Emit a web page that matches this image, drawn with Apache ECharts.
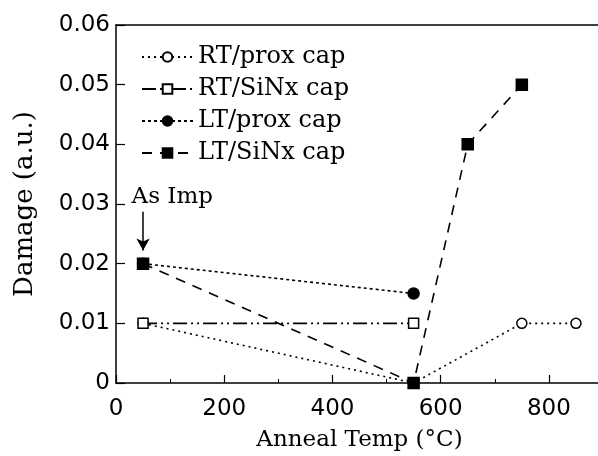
<!DOCTYPE html>
<html><head><meta charset="utf-8">
<script src="https://cdn.jsdelivr.net/npm/echarts@6/dist/echarts.min.js"></script>
<style>html,body{margin:0;padding:0;background:#fff;overflow:hidden}#c{width:598px;height:456px}</style>
</head><body><div id="c"></div>
<script>
const seriesNames = ['RT/prox cap', 'RT/SiNx cap', 'LT/prox cap', 'LT/SiNx cap'];
const rtProx = [[50, 0.01], [550, 0], [750, 0.01], [850, 0.01]];
const rtSiNx = [[50, 0.01], [550, 0.01]];
const ltProx = [[50, 0.02], [550, 0.015]];
const ltSiNx = [[50, 0.02], [550, 0], [650, 0.04], [750, 0.05]];
const xTicks = [0, 200, 400, 600, 800];
const yTicks = [0, 0.01, 0.02, 0.03, 0.04, 0.05, 0.06];
const annoText = 'As Imp';
const annoTextPos = [104, 0.0312];
const annoArrow = [[50, 0.0287], [50, 0.0222]];

const serif = 'DejaVu Serif';
const sans = 'DejaVu Sans';
const chart = echarts.init(document.getElementById('c'));
function mk(name, data, symbol, filled, dash, z) {
  return {
    name, type: 'line', data, symbol, symbolSize: filled ? 11 : 10, z,
    itemStyle: { color: filled ? '#000' : '#fff', borderColor: '#000', borderWidth: 1.5 },
    lineStyle: { color: '#000', width: 1.6, type: dash },
    emphasis: { disabled: true }, animation: false
  };
}
const s1 = mk(seriesNames[0], rtProx, 'circle', false, [2, 4], 2);
const s2 = mk(seriesNames[1], rtSiNx, 'rect', false, [14, 4, 2, 4, 2, 4], 3);
const s3 = mk(seriesNames[2], ltProx, 'circle', true, [3, 3], 4);
const s4 = mk(seriesNames[3], ltSiNx, 'rect', true, [10, 8], 5);
s4.markLine = {
  silent: true, symbol: ['none', 'arrow'], symbolSize: [10, 12], animation: false,
  lineStyle: { color: '#000', type: 'solid', width: 1.5 }, label: { show: false },
  data: [[{ coord: annoArrow[0] }, { coord: annoArrow[1] }]]
};
s4.markPoint = {
  silent: true, symbol: 'circle', symbolSize: 0, animation: false,
  label: { show: true, formatter: annoText, color: '#000', fontFamily: serif, fontSize: 23, position: 'inside' },
  data: [{ coord: annoTextPos }]
};
chart.setOption({
  animation: false,
  grid: { left: 116, width: 487, top: 25, height: 358, show: false,
    containLabel: false, outerBoundsMode: 'none' },
  legend: {
    left: 136, top: 40, orient: 'vertical', itemWidth: 51, itemHeight: 12, itemGap: 8,
    data: seriesNames,
    textStyle: { fontFamily: serif, fontSize: 24, lineHeight: 24, color: '#000' }
  },
  graphic: [{ type: 'rect', right: 0, top: 27, z: 100, silent: true,
    shape: { width: 6, height: 354 }, style: { fill: '#fff' } }],
  xAxis: [{
    type: 'value', min: 0, max: 900, interval: 200,
    name: 'Anneal Temp (°C)', nameLocation: 'middle', nameGap: 46,
    nameTextStyle: { fontFamily: serif, fontSize: 23, color: '#000' },
    axisLine: { onZero: false, lineStyle: { color: '#000', width: 1.5 } },
    axisTick: { inside: true, length: 8, lineStyle: { color: '#000', width: 1.2 } },
    minorTick: { show: true, splitNumber: 2, length: 4, lineStyle: { color: '#000' } },
    splitLine: { show: false },
    axisLabel: { fontFamily: sans, fontSize: 23, color: '#000', margin: 15,
      formatter: v => xTicks.includes(v) ? String(v) : '' }
  }, {
    type: 'value', position: 'top', min: 0, max: 900, interval: 200,
    axisLine: { show: true, onZero: false, lineStyle: { color: '#000', width: 1.5 } },
    axisTick: { show: false }, axisLabel: { show: false }, splitLine: { show: false }
  }],
  yAxis: {
    type: 'value', min: 0, max: 0.06, interval: 0.01,
    name: 'Damage (a.u.)', nameLocation: 'middle', nameGap: 78,
    nameTextStyle: { fontFamily: serif, fontSize: 26, color: '#000' },
    axisLine: { onZero: false, lineStyle: { color: '#000', width: 1.5 } },
    axisTick: { inside: true, length: 9, lineStyle: { color: '#000', width: 1.2 } },
    splitLine: { show: false },
    axisLabel: { fontFamily: sans, fontSize: 23, color: '#000', margin: 6,
      formatter: v => { const t = yTicks.find(y => Math.abs(y - v) < 1e-9); return t === undefined ? '' : (t === 0 ? '0' : t.toFixed(2)); } }
  },
  series: [s1, s2, s3, s4]
});
</script></body></html>
